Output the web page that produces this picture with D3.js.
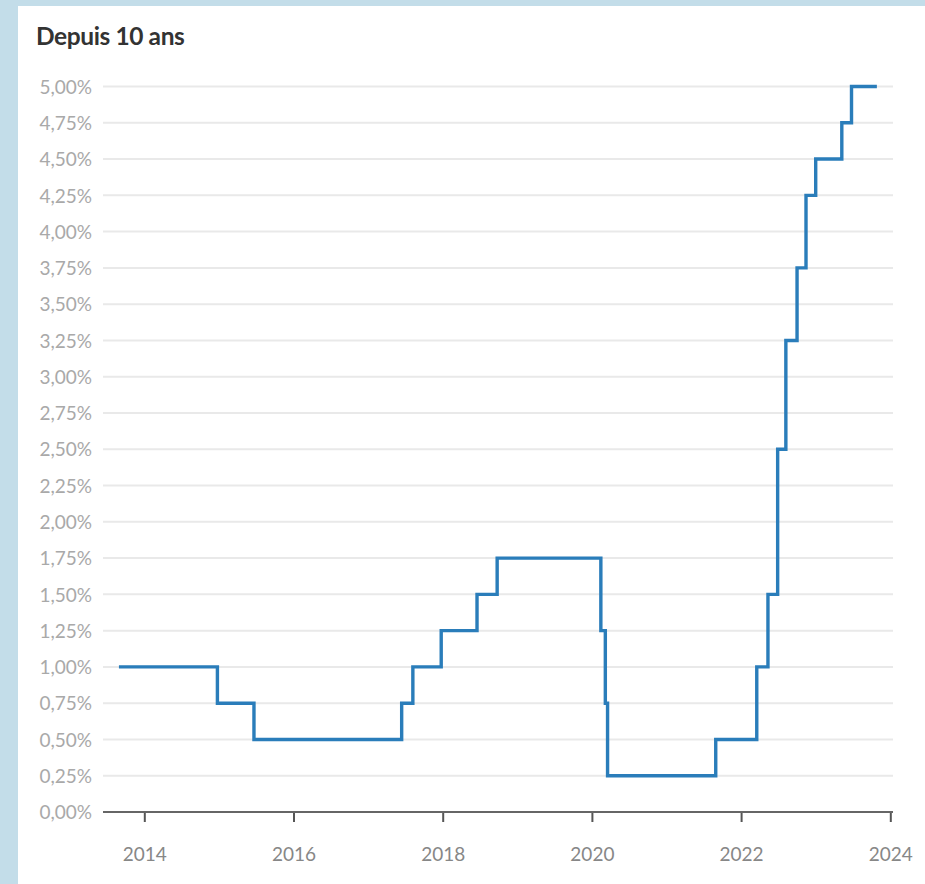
<!DOCTYPE html>
<html>
<head>
<meta charset="utf-8">
<script src="https://cdn.jsdelivr.net/npm/d3@7"></script>
<style>
  html, body { margin: 0; padding: 0; background: #c3dde9; }
  svg { display: block; }
</style>
</head>
<body>
<svg id="chart" width="925" height="884"></svg>
<script>
// ---- Data ----
const title = "Depuis 10 ans";
// Dates (decimal years) at which the rate changes
const changeDates = [2013.66, 2014.98, 2015.47, 2017.45, 2017.60, 2017.98, 2018.46, 2018.73,
                     2020.12, 2020.18, 2020.21, 2021.66, 2022.21, 2022.36, 2022.49, 2022.60,
                     2022.75, 2022.87, 2023.00, 2023.35, 2023.48];
// Policy rate (%) from each change date
const rates = [1.00, 0.75, 0.50, 0.75, 1.00, 1.25, 1.50, 1.75,
               1.25, 0.75, 0.25, 0.50, 1.00, 1.50, 2.50, 3.25,
               3.75, 4.25, 4.50, 4.75, 5.00];
const endDate = 2023.82;
const yTicks = [0, 0.25, 0.5, 0.75, 1, 1.25, 1.5, 1.75, 2, 2.25, 2.5, 2.75, 3, 3.25, 3.5, 3.75, 4, 4.25, 4.5, 4.75, 5];
const xTicks = [2014, 2016, 2018, 2020, 2022, 2024];

// ---- Drawing ----
const svg = d3.select("#chart");
svg.append("rect").attr("x", 18).attr("y", 6).attr("width", 907).attr("height", 878).attr("fill", "#ffffff");

svg.append("text").attr("x", 36).attr("y", 45)
  .attr("font-family", "Lato, 'Open Sans', sans-serif").attr("font-weight", 700)
  .attr("font-size", 24.5).attr("fill", "#333333").attr("letter-spacing", -0.4)
  .text(title);

const plotLeft = 103, plotRight = 893;
const x = d3.scaleLinear().domain([2014, 2024]).range([144.3, 890.3]);
const y = d3.scaleLinear().domain([0, 5]).range([812, 86.5]);

const fmt = v => d3.format(".2f")(v).replace(".", ",") + "%";

// gridlines
svg.append("g").selectAll("line").data(yTicks.filter(d => d > 0)).join("line")
  .attr("x1", plotLeft).attr("x2", plotRight)
  .attr("y1", d => y(d)).attr("y2", d => y(d))
  .attr("stroke", "#e9e9e9").attr("stroke-width", 2);

// y labels
svg.append("g").selectAll("text").data(yTicks).join("text")
  .attr("x", 92).attr("y", d => y(d)).attr("dy", "0.38em")
  .attr("text-anchor", "end")
  .attr("font-family", "Lato, 'Open Sans', sans-serif").attr("font-size", 19)
  .attr("fill", "#a9a9a9")
  .text(fmt);

// x axis
const xAxis = d3.axisBottom(x).tickValues(xTicks).tickFormat(d3.format("d")).tickSize(10).tickSizeOuter(0);
const gx = svg.append("g").attr("transform", `translate(0,${y(0)})`).call(xAxis);
gx.select(".domain").remove();
gx.selectAll(".tick line").attr("stroke", "#555").attr("stroke-width", 2);
gx.selectAll(".tick text").attr("y", 49).attr("dy", "0")
  .attr("font-family", "Lato, 'Open Sans', sans-serif").attr("font-size", 19)
  .attr("fill", "#878787");
svg.append("line").attr("x1", plotLeft).attr("x2", plotRight)
  .attr("y1", y(0)).attr("y2", y(0)).attr("stroke", "#666").attr("stroke-width", 2.2);

// step line
const pts = changeDates.map((d, i) => [d, rates[i]]);
pts.push([endDate, rates[rates.length - 1]]);
const line = d3.line().x(d => x(d[0])).y(d => y(d[1])).curve(d3.curveStepAfter);
svg.append("path").datum(pts).attr("d", line)
  .attr("fill", "none").attr("stroke", "#2a7dba").attr("stroke-width", 3.4)
  .attr("stroke-linejoin", "miter").attr("stroke-linecap", "butt");
</script>
</body>
</html>
